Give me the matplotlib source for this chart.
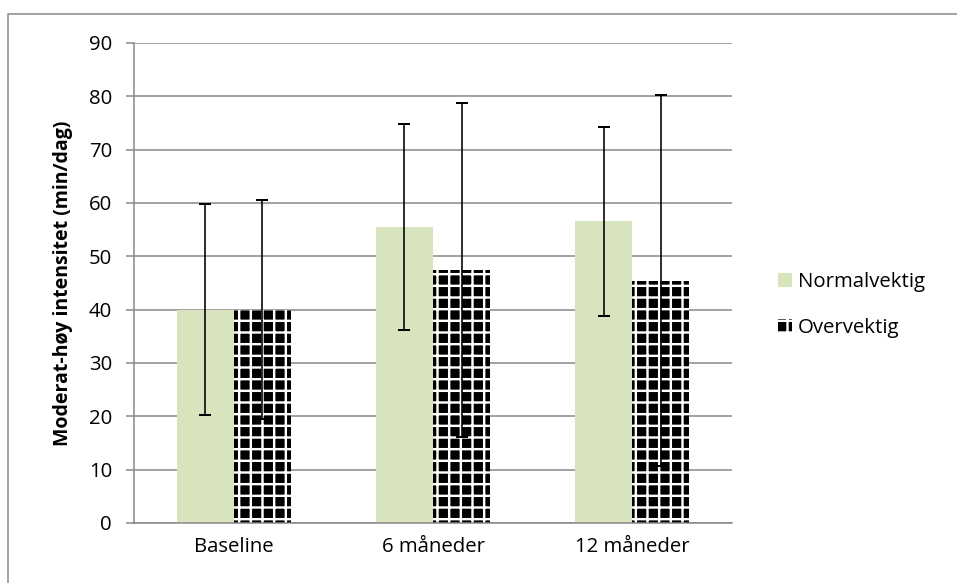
import numpy as np
import matplotlib.pyplot as plt
from matplotlib.patches import Rectangle, Patch

# data
categories = ["Baseline", "6 måneder", "12 måneder"]
normal_mean = [40.0, 55.5, 56.6]
normal_err = [19.8, 19.3, 17.7]
over_mean = [40.0, 47.4, 45.4]
over_err = [20.5, 31.3, 34.8]
yticks = [0, 10, 20, 30, 40, 50, 60, 70, 80, 90]

GREEN = "#D7E4BD"
GRAY = "#868686"
DPI = 70
W, H = 957, 583


def px(v):
    # pixels -> points at this dpi
    return v * 72 / DPI


def main():
    plt.rcParams["font.family"] = ["Open Sans", "DejaVu Sans"]
    plt.rcParams["hatch.color"] = "white"
    plt.rcParams["hatch.linewidth"] = px(2.4)

    fig = plt.figure(figsize=(W / DPI, H / DPI), dpi=DPI)
    # outer chart border
    fig.patches.append(Rectangle((8 / W, -0.1), 1.2, 1.1 - 14 / H,
                                 transform=fig.transFigure, fill=False,
                                 edgecolor=GRAY, linewidth=px(1.5)))

    ax = fig.add_axes([134 / W, 1 - 523 / H, (732 - 134) / W, (523 - 43) / H])
    x = np.arange(len(categories))
    bw = 0.286

    ax.bar(x - bw / 2, normal_mean, bw, color=GREEN, zorder=2)
    ax.bar(x + bw / 2, over_mean, bw, color="black", edgecolor="white",
           linewidth=0, hatch="+", zorder=2)

    ek = dict(fmt="none", ecolor="black", elinewidth=px(1.6),
              capsize=px(6), capthick=px(2), zorder=3)
    ax.errorbar(x - bw / 2, normal_mean, yerr=normal_err, **ek)
    ax.errorbar(x + bw / 2, over_mean, yerr=over_err, **ek)

    ax.set_xlim(-0.5, 2.5)
    ax.set_ylim(0, 90)
    ax.set_yticks(yticks)
    ax.set_xticks(x, categories)
    ax.yaxis.grid(True, color=GRAY, linewidth=px(1.5), zorder=0)
    ax.set_axisbelow(True)
    for s in ["top", "right"]:
        ax.spines[s].set_visible(False)
    for s in ["left", "bottom"]:
        ax.spines[s].set_color(GRAY)
        ax.spines[s].set_linewidth(px(1.5))
    ax.tick_params(axis="y", length=px(8), width=px(1.5), color=GRAY,
                   labelsize=21, pad=px(14))
    ax.tick_params(axis="x", length=0, labelsize=21, pad=px(14))
    ax.set_ylabel("Moderat-høy intensitet (min/dag)", fontsize=20,
                  fontweight="bold", labelpad=px(16))

    handles = [Patch(facecolor=GREEN, edgecolor="none"),
               Patch(facecolor="black", edgecolor="white", linewidth=0,
                     hatch="+")]
    fig.legend(handles, ["Normalvektig", "Overvektig"],
               loc="center left", bbox_to_anchor=(760 / W, 1 - 305 / H),
               frameon=False, fontsize=21, handlelength=0.65,
               handleheight=0.65, handletextpad=0.3, labelspacing=1.25)

    fig.savefig("out.png", dpi=DPI)


if __name__ == "__main__":
    main()
